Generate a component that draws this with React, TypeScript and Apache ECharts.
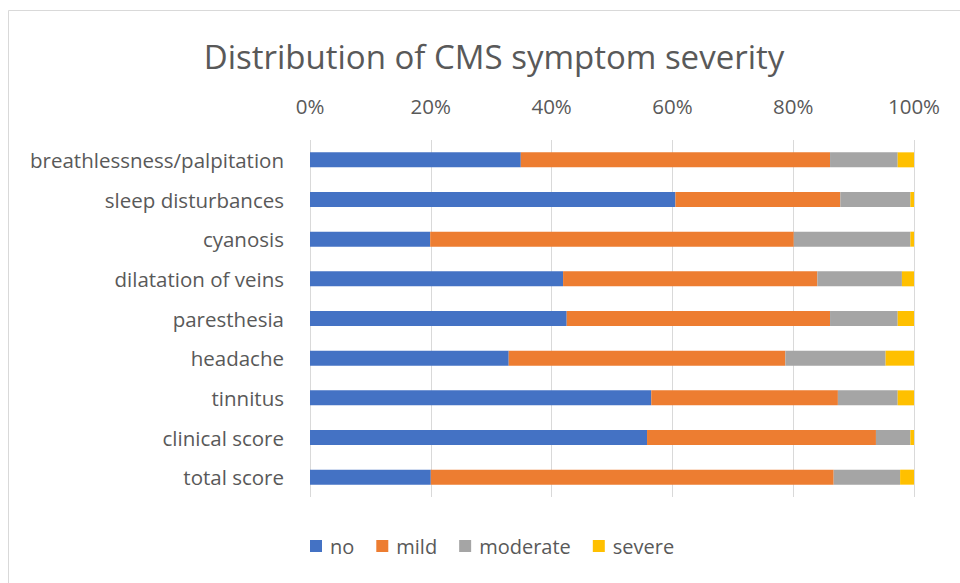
import React, { useEffect, useRef } from "react";
import * as echarts from "echarts";

const categories = [
  "breathlessness/palpitation",
  "sleep disturbances",
  "cyanosis",
  "dilatation of veins",
  "paresthesia",
  "headache",
  "tinnitus",
  "clinical score",
  "total score",
];
const noValues = [34.9, 60.5, 19.9, 41.9, 42.5, 32.9, 56.5, 55.8, 20.0];
const mildValues = [51.2, 27.3, 60.2, 42.1, 43.6, 45.8, 30.9, 37.9, 66.7];
const moderateValues = [11.2, 11.6, 19.3, 14.0, 11.2, 16.6, 9.9, 5.7, 11.0];
const severeValues = [2.7, 0.6, 0.6, 2.0, 2.7, 4.7, 2.7, 0.6, 2.3];
const seriesNames = ["no", "mild", "moderate", "severe"];
const colors = ["#4472C4", "#ED7D31", "#A5A5A5", "#FFC000"];
const titleText = "Distribution of CMS symptom severity";

const FONT = "'Open Sans', sans-serif";
const TEXT_COLOR = "#595959";

export default function App() {
  const ref = useRef<HTMLDivElement>(null);
  useEffect(() => {
    document.body.style.margin = "0";
    if (!ref.current) return;
    const chart = echarts.init(ref.current, null, { renderer: "svg" });
    const data = [noValues, mildValues, moderateValues, severeValues];
    chart.setOption({
      animation: false,
      backgroundColor: "#ffffff",
      textStyle: { fontFamily: FONT },
      graphic: [
        {
          type: "rect",
          shape: { x: 8.5, y: 10.5, width: 1000, height: 1000 },
          style: { fill: "none", stroke: "#d9d9d9", lineWidth: 1 },
          silent: true,
          z: -1,
        },
        {
          type: "text",
          x: 494,
          y: 56,
          style: {
            text: titleText,
            fontFamily: FONT,
            fontSize: 33,
            fill: TEXT_COLOR,
            textAlign: "center",
            textVerticalAlign: "middle",
          },
        },
      ],
      legend: {
        data: seriesNames,
        top: 536,
        left: 310,
        padding: 0,
        itemWidth: 12,
        itemHeight: 12,
        itemGap: 22,
        icon: "rect",
        textStyle: { fontFamily: FONT, fontSize: 20, color: TEXT_COLOR, padding: [0, 0, 0, 3] },
      },
      grid: { left: 310, right: 46, top: 140, bottom: 86, containLabel: false },
      xAxis: {
        type: "value",
        position: "top",
        min: 0,
        max: 100,
        interval: 20,
        axisLine: { show: false },
        axisTick: { show: false },
        splitLine: { show: true, lineStyle: { color: "#d9d9d9", width: 1 } },
        axisLabel: {
          formatter: "{value}%",
          fontFamily: FONT,
          fontSize: 20.5,
          color: TEXT_COLOR,
          margin: 24,
        },
      },
      yAxis: {
        type: "category",
        data: categories,
        inverse: true,
        axisLine: { show: false },
        axisTick: { show: false },
        axisLabel: { fontFamily: FONT, fontSize: 20.5, color: TEXT_COLOR, margin: 26 },
      },
      series: seriesNames.map((name, i) => ({
        name,
        type: "bar",
        stack: "total",
        barWidth: 15,
        data: data[i],
        itemStyle: { color: colors[i] },
      })),
    });
    return () => chart.dispose();
  }, []);
  return <div ref={ref} style={{ width: 960, height: 583 }} />;
}
